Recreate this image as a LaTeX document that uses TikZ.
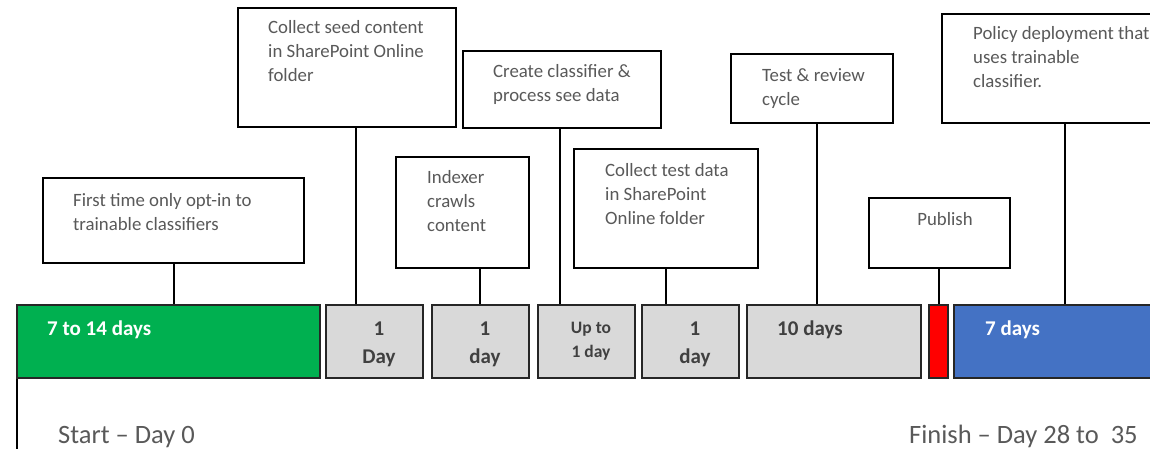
\documentclass[tikz,border=0pt]{standalone}
\usepackage{fontspec}
\setmainfont{Carlito}
\definecolor{txtgray}{HTML}{595959}
\definecolor{bartxt}{HTML}{404040}
\definecolor{barGray}{HTML}{D9D9D9}
\definecolor{barGreen}{HTML}{00B050}
\definecolor{barBlue}{HTML}{4472C4}
\definecolor{barRed}{HTML}{FF0000}
\tikzset{
  box/.style={draw=black, line width=2.2pt, fill=white, rectangle, inner sep=0pt, anchor=north west},
  bar/.style={draw=black!85, line width=2.2pt, rectangle, inner sep=0pt, anchor=north west, minimum height=73pt},
  conn/.style={line width=2.2pt, draw=black},
  boxtext/.style={text=txtgray, font=\fontsize{18.8}{24}\selectfont, align=left, anchor=base west, inner sep=0pt},
  bartext/.style={text=bartxt, font=\bfseries\fontsize{21}{28}\selectfont, align=center, anchor=base, inner sep=0pt},
  whitetext/.style={text=white, font=\bfseries\fontsize{21}{28}\selectfont, anchor=base west, inner sep=0pt},
  endtext/.style={text=txtgray, font=\fontsize{26.5}{30}\selectfont, anchor=base west, inner sep=0pt},
}
\begin{document}
\begin{tikzpicture}[x=1pt,y=-1pt]
\useasboundingbox (0,0) rectangle (1150,449);
\clip (0,0) rectangle (1150,449);
% boxes
\node[box, minimum width=261pt, minimum height=85pt]  (opt)     at (42,177)  {};
\node[box, minimum width=218pt, minimum height=119pt] (seed)    at (237,7)   {};
\node[box, minimum width=133pt, minimum height=111pt] (idx)     at (395,156) {};
\node[box, minimum width=198pt, minimum height=77pt]  (create)  at (462,50)  {};
\node[box, minimum width=184pt, minimum height=119pt] (ctest)   at (573,148) {};
\node[box, minimum width=162pt, minimum height=69pt]  (review)  at (730,53)  {};
\node[box, minimum width=141pt, minimum height=70pt]  (publish) at (868,197) {};
\node[box, minimum width=240pt, minimum height=109pt] (policy)  at (941,13)  {};
% box texts (anchored at the baseline of the last line)
\node[boxtext] (toptxt)  at (73,230)  {First time only opt-in to\\trainable classifiers};
\node[boxtext] (tseed)   at (268,82)  {Collect seed content\\in SharePoint Online\\folder};
\node[boxtext] (tidx)    at (427,231) {Indexer\\crawls\\content};
\node[boxtext] (tcreate) at (493,102) {Create classifier \&\\process see data};
\node[boxtext] (tctest)  at (605,224) {Collect test data\\in SharePoint\\Online folder};
\node[boxtext] (treview) at (762,106) {Test \& review\\cycle};
\node[boxtext, anchor=base] (tpub) at (945,225) {Publish};
\node[boxtext] (tpolicy) at (973,88)  {Policy deployment that\\uses trainable\\classifier.};
% bars
\node[bar, fill=barGreen, minimum width=303pt] (green) at (16,304)  {};
\node[bar, fill=barGray,  minimum width=97pt]  (b1)    at (325,304) {};
\node[bar, fill=barGray,  minimum width=97pt]  (b2)    at (431,304) {};
\node[bar, fill=barGray,  minimum width=97pt]  (b3)    at (537,304) {};
\node[bar, fill=barGray,  minimum width=97pt]  (b4)    at (641,304) {};
\node[bar, fill=barGray,  minimum width=174pt] (b5)    at (746,304) {};
\node[bar, fill=barRed,   minimum width=19pt]  (red)   at (928,304) {};
\node[bar, fill=barBlue,  minimum width=230pt] (blue)  at (953,304) {};
% bar texts
\node[whitetext] (tgreen) at (47,335) {7 to 14 days};
\node[bartext] (tb1) at (379,363) {1\\Day};
\node[bartext] (tb2) at (485,363) {1\\day};
\node[bartext, font=\bfseries\fontsize{17.5}{24}\selectfont] (tb3) at (591,357) {Up to\\1 day};
\node[bartext] (tb4) at (695,363) {1\\day};
\node[bartext, anchor=base west] (tb5) at (777,335) {10 days};
\node[whitetext] (tblue) at (985,335) {7 days};
% connector x positions
\coordinate (c1) at (174,0);
\coordinate (c2) at (356,0);
\coordinate (c3) at (480,0);
\coordinate (c4) at (560,0);
\coordinate (c5) at (666,0);
\coordinate (c6) at (817,0);
\coordinate (c7) at (939,0);
\coordinate (c8) at (1065,0);
\coordinate (startend) at (17,449);
% connectors
\draw[conn] (opt.south -| c1)     -- (green.north -| c1);
\draw[conn] (seed.south -| c2)    -- (b1.north -| c2);
\draw[conn] (idx.south -| c3)     -- (b2.north -| c3);
\draw[conn] (create.south -| c4)  -- (b3.north -| c4);
\draw[conn] (ctest.south -| c5)   -- (b4.north -| c5);
\draw[conn] (review.south -| c6)  -- (b5.north -| c6);
\draw[conn] (publish.south -| c7) -- (red.north -| c7);
\draw[conn] (policy.south -| c8)  -- (blue.north -| c8);
\draw[conn] (green.south -| startend) -- (startend);
% end labels
\node[endtext] (start)  at (58,443)  {Start – Day 0};
\node[endtext] (finish) at (909,443) {Finish – Day 28 to\ \ 35};
\end{tikzpicture}
\end{document}
